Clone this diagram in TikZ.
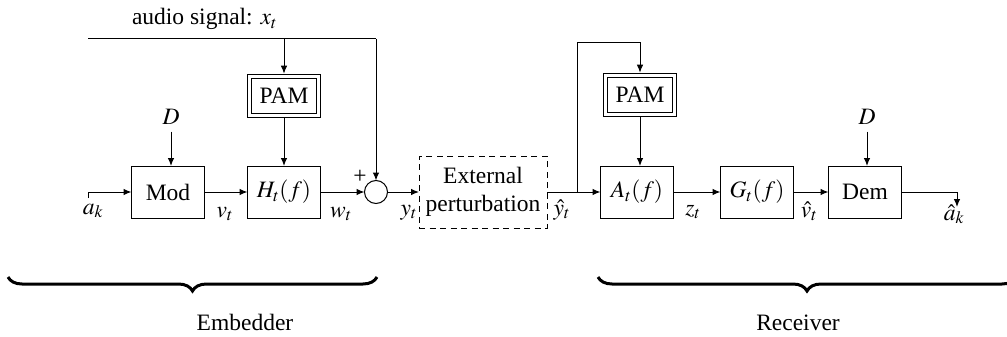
\documentclass[tikz,border=0pt]{standalone}
\usepackage{mathptmx}
\usepackage{fontspec}
\setmainfont{Liberation Serif}
\usetikzlibrary{arrows.meta,decorations.pathreplacing}
\begin{document}
\begin{tikzpicture}[x=1pt,y=-1pt,line width=1pt,
  every node/.style={font=\fontsize{23.5}{28}\selectfont,inner sep=0pt,outer sep=0pt},
  blk/.style={draw,minimum width=73pt,minimum height=52pt},
  pam/.style={draw,double,double distance=3.6pt,minimum width=69pt,minimum height=39pt,outer sep=2.8pt},
  extbox/.style={draw,dash pattern=on 6pt off 4.5pt,minimum width=128pt,minimum height=72pt,align=center},
  sumnode/.style={draw,circle,minimum size=23pt},
  dnode/.style={outer ysep=7pt},
  sig/.style={-{Latex[length=8pt,width=6.5pt]}},
  lbl/.style={anchor=base},
  brc/.style={decorate,decoration={brace,mirror,amplitude=14pt},line width=3pt}]
\useasboundingbox (0,0) rectangle (1007,337);

% nodes
\node[anchor=base west] (audio) at (132,25) {audio signal: $x_t$};
\node[pam] (pamL) at (284,96) {PAM};
\node[blk] (mod) at (168,192) {Mod};
\node[blk] (H) at (284,192) {$H_t(f)$};
\node[sumnode] (sum) at (376,192) {};
\node[extbox] (ext) at (483,192) {External\\perturbation};
\node[pam] (pamR) at (640,95) {PAM};
\node[blk] (A) at (637,192) {$A_t(f)$};
\node[blk] (G) at (757,192) {$G_t(f)$};
\node[blk] (dem) at (865,192) {Dem};
\node[dnode] (D1) at (171,117) {$D$};
\node[dnode] (D2) at (867,117) {$D$};
\node (plus) at (360,177) {+};

\coordinate (xs) at (88,39);
\coordinate (ain) at (88,198);
\coordinate (br) at (577,192);
\coordinate (lt) at (577,43);
\coordinate (aout) at (957,207);

% connectors
\draw (xs) -- (sum.north |- xs);
\draw[sig] (sum.north |- xs) -- (sum.north);
\draw[sig] (pamL.north |- xs) -- (pamL.north);
\draw[sig] (pamL.south) -- (pamL.south |- H.north);
\draw[sig] (D1.south) -- (D1.south |- mod.north);
\draw[sig] (ain) |- (mod.west);
\draw[sig] (mod) -- (H);
\draw[sig] (H) -- (sum);
\draw[sig] (sum) -- (ext);
\draw[sig] (ext) -- (A);
\draw[sig] (br) -- (lt) -| (pamR.north);
\draw[sig] (pamR.south) -- (pamR.south |- A.north);
\draw[sig] (A) -- (G);
\draw[sig] (G) -- (dem);
\draw[sig] (D2.south) -- (D2.south |- dem.north);
\draw[sig] (dem.east) -| (aout);

% signal labels
\node[lbl] (lak) at (93,214) {$a_k$};
\node[lbl] (lvt) at (225,217) {$v_t$};
\node[lbl] (lwt) at (341,217) {$w_t$};
\node[lbl] (lyt) at (409,215) {$y_t$};
\node[lbl] (lyh) at (562,215) {$\hat{y}_t$};
\node[lbl] (lzt) at (693,215) {$z_t$};
\node[lbl] (lvh) at (809,217) {$\hat{v}_t$};
\node[lbl] (lah) at (954,220) {$\hat{a}_k$};

% braces
\draw[brc] (8,277) -- (377,277);
\draw[brc] (598,277) -- (1016,277);
\node[lbl] (emb) at (245,330) {Embedder};
\node[lbl] (rec) at (798,330) {Receiver};
\end{tikzpicture}
\end{document}
